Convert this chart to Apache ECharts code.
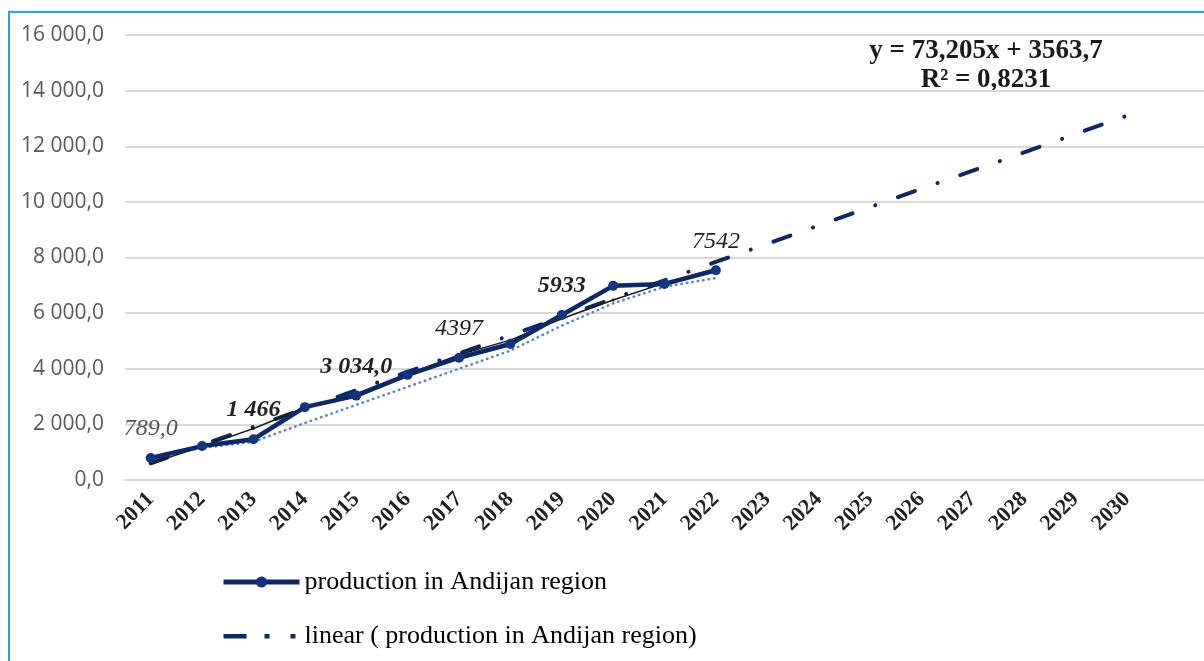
<!DOCTYPE html>
<html>
<head>
<meta charset="utf-8">
<script src="https://cdn.jsdelivr.net/npm/echarts@6/dist/echarts.min.js"></script>
<style>
  html, body { margin: 0; padding: 0; background: #fff; }
  #chart { width: 1204px; height: 661px; }
</style>
</head>
<body>
<div id="chart"></div>
<script>
// years on the x axis
var years = ['2011', '2012', '2013', '2014', '2015', '2016', '2017', '2018', '2019', '2020',
             '2021', '2022', '2023', '2024', '2025', '2026', '2027', '2028', '2029', '2030'];
// production in Andijan region, 2011-2022
var production = [789, 1220, 1466, 2620, 3034, 3780, 4397, 4890, 5933, 6980, 7050, 7542];
// point labels written on the chart ('' = none)
var pointLabels = ['789,0', '', '1 466', '', '3 034,0', '', '4397', '', '5933', '', '', '7542'];
var boldLabels = ['1 466', '3 034,0', '5933'];
// linear trend drawn through to 2030
var trend = [600, 1260, 1910, 2570, 3230, 3890, 4550, 5200, 5860, 6520,
             7180, 7840, 8490, 9150, 9810, 10470, 11120, 11780, 12440, 13100];
// thin black helper line and light blue dotted line
var thinLine = [600, 1200, 1850, 2600, 3100, 3800, 4500, 5030, 5800, 6470, 7080, 7600];
var dottedLine = [790, 1150, 1370, 2050, 2700, 3350, 4000, 4650, 5550, 6350, 6950, 7260];
var yTicks = { min: 0, max: 16000, step: 2000 };

var serif = '"Liberation Serif", "Times New Roman", serif';
var navy = '#0d2868';
var prodName = 'production in Andijan region';
var trendName = 'linear ( production in Andijan region)';

var chart = echarts.init(document.getElementById('chart'));

var prodData = production.map(function(v, i) {
  var txt = pointLabels[i];
  return {
    value: v,
    label: {
      show: txt !== '',
      formatter: txt,
      fontWeight: boldLabels.indexOf(txt) >= 0 ? 'bold' : 'normal',
      color: i === 0 ? '#555' : '#222'
    }
  };
});

var option = {
  animation: false,
  backgroundColor: '#fff',
  graphic: [
    {
      type: 'rect',
      shape: { x: 9, y: 12, width: 1230, height: 700 },
      style: { fill: 'none', stroke: '#1ea5e6', lineWidth: 2 },
      silent: true
    },
    {
      type: 'text',
      x: 986,
      y: 37,
      style: {
        text: 'y = 73,205x + 3563,7\nR² = 0,8231',
        font: 'bold 27px ' + serif,
        fill: '#1a1a1a',
        align: 'center',
        verticalAlign: 'top',
        lineHeight: 29
      }
    }
  ],
  legend: {
    data: [
      { name: prodName, lineStyle: { width: 5 } },
      {
        name: trendName,
        icon: 'path://M0,0h0.05v0.05h-0.05z M76,14h-0.05v-0.05h0.05z M0,5h23v4.5h-23z M41,5h5v4.5h-5z M67,5h5v4.5h-5z'
      }
    ],
    orient: 'vertical',
    left: 216,
    top: 564,
    itemWidth: 76,
    itemHeight: 14,
    itemGap: 28,
    textStyle: { fontFamily: serif, fontSize: 26, color: '#000' }
  },
  grid: { left: 125, right: 0, top: 35, bottom: 181 },
  xAxis: {
    type: 'category',
    data: years.concat(['']),
    axisLine: { lineStyle: { color: '#d9d9d9', width: 2 } },
    axisTick: { show: false },
    axisLabel: {
      interval: 0,
      rotate: 45,
      margin: 16,
      fontFamily: serif,
      fontWeight: 'bold',
      fontSize: 22,
      color: '#222'
    }
  },
  yAxis: {
    type: 'value',
    min: yTicks.min,
    max: yTicks.max,
    interval: yTicks.step,
    axisLine: { show: false },
    axisTick: { show: false },
    splitLine: { lineStyle: { color: '#d9d9d9', width: 2 } },
    axisLabel: {
      margin: 21,
      fontFamily: '"Open Sans", sans-serif',
      fontSize: 21,
      color: '#595959',
      formatter: function(v) {
        return v === 0 ? '0,0' : (v / 1000) + ' 000,0';
      }
    }
  },
  series: [
    {
      name: trendName,
      type: 'line',
      data: trend,
      symbol: 'none',
      z: 2,
      color: navy,
      lineStyle: { color: navy, width: 4, type: [18, 24, 0.1, 24], cap: 'round' }
    },
    {
      name: 'dotted',
      type: 'line',
      data: dottedLine,
      symbol: 'none',
      z: 3,
      lineStyle: { color: '#4f82d8', width: 2.5, type: [0.5, 5], cap: 'round' }
    },
    {
      name: 'thin',
      type: 'line',
      data: thinLine,
      symbol: 'circle',
      symbolSize: 3,
      z: 4,
      itemStyle: { color: '#1a1a1a' },
      lineStyle: { color: '#1a1a1a', width: 1.5 }
    },
    {
      name: prodName,
      type: 'line',
      data: prodData,
      symbol: 'circle',
      symbolSize: 10,
      z: 5,
      color: '#133580',
      itemStyle: { color: '#133580' },
      lineStyle: { color: navy, width: 4.5 },
      label: {
        position: 'top',
        distance: 12,
        fontFamily: serif,
        fontStyle: 'italic',
        fontSize: 24
      }
    }
  ]
};

chart.setOption(option);
</script>
</body>
</html>
